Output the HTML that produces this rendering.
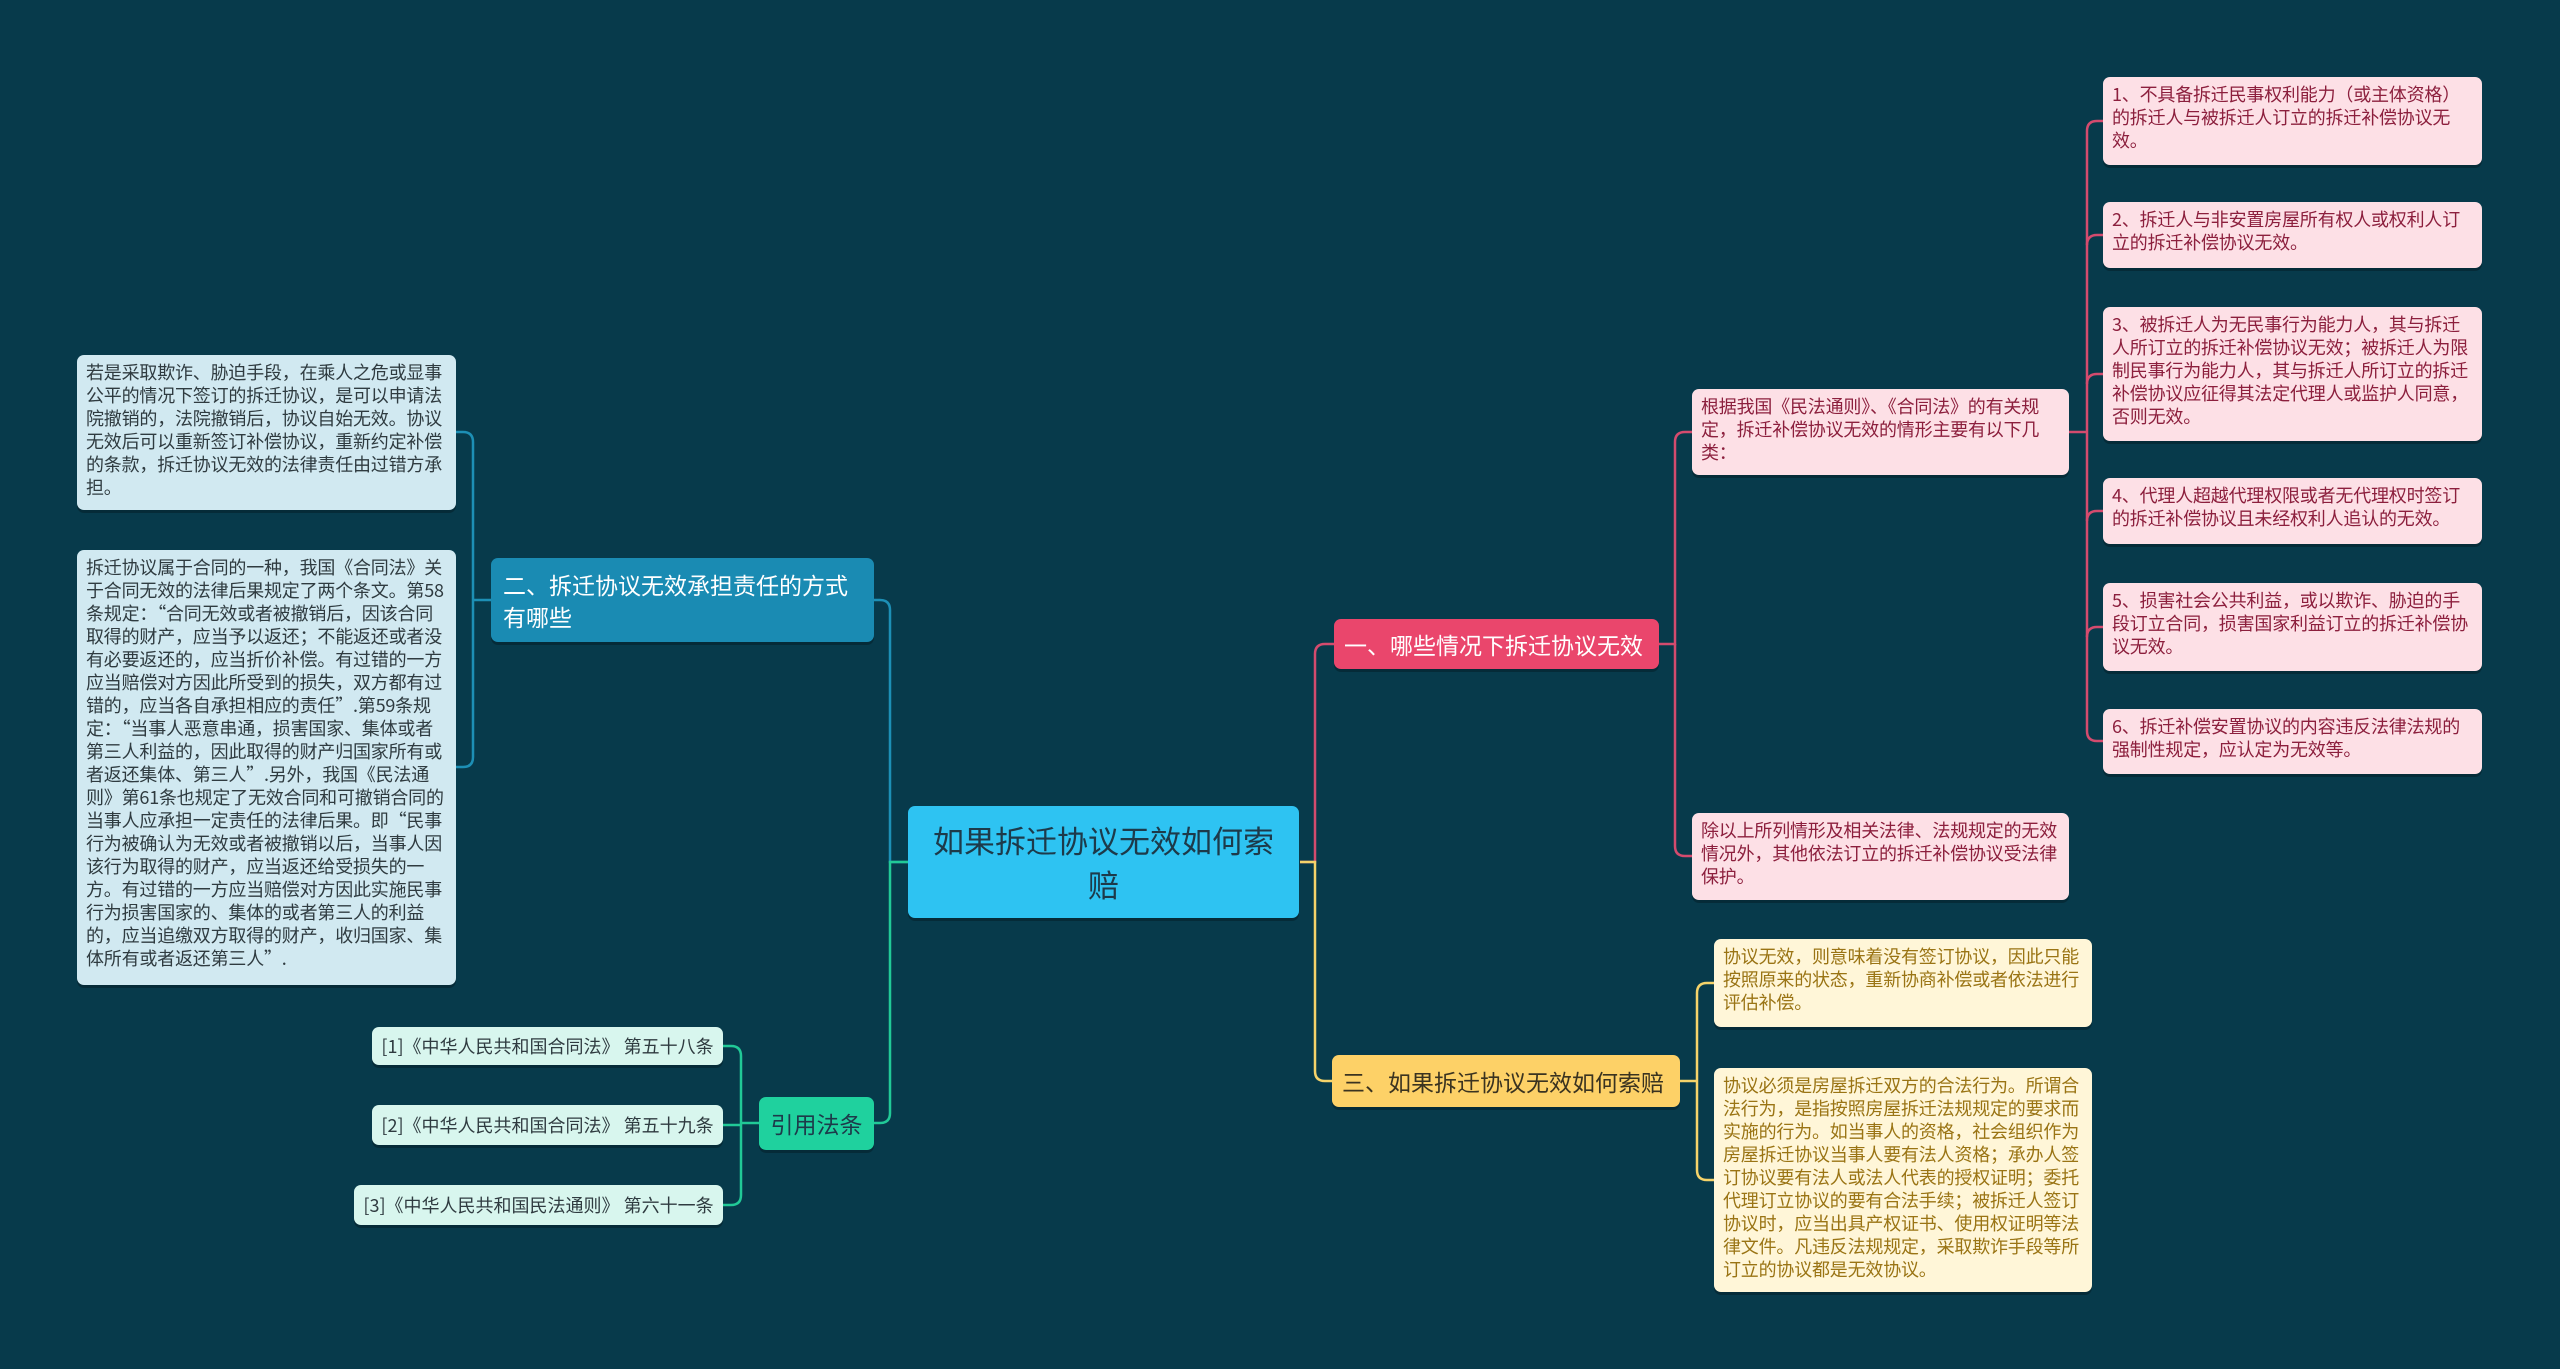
<!DOCTYPE html>
<html><head><meta charset="utf-8"><style>
html,body{margin:0;padding:0}
body{width:2560px;height:1369px;background:#073a4b;position:relative;overflow:hidden;font-family:"Noto Sans CJK SC","Liberation Sans",sans-serif}
.n{position:absolute;box-sizing:border-box;border-radius:7px;box-shadow:0 3px 0 rgba(0,0,0,0.25)}
.s{font-size:18px;line-height:23px;padding:6px 8px 6px 9px;word-break:break-all;letter-spacing:-0.2px}
.pk{background:#fde0e6;color:#8c1f3d}
.yl{background:#fff6d8;color:#9a7414}
.bl{background:#d1e9f1;color:#2f3b40}
.gr{background:#d8f6ee;color:#2f3b40;font-size:18px;line-height:38px;text-align:center;white-space:nowrap}
svg{position:absolute;left:0;top:0}
</style></head><body>
<svg width="2560" height="1369" fill="none" stroke-width="2.5">
<g stroke="#d44b6e">
<path d="M1300 862 H1315 V654 Q1315 644 1325 644 H1334"/>
<path d="M1659 644 H1675 V442 Q1675 432 1685 432 H1692"/>
<path d="M1675 644 V846 Q1675 856 1685 856 H1692"/>
<path d="M2069 432 H2087"/>
<path d="M2087 131 Q2087 121 2097 121 H2103 M2087 131 V731 Q2087 741 2097 741 H2103"/>
<path d="M2087 245 Q2087 235 2097 235 H2103"/>
<path d="M2087 384 Q2087 374 2097 374 H2103"/>
<path d="M2087 521 Q2087 511 2097 511 H2103"/>
<path d="M2087 637 Q2087 627 2097 627 H2103"/>
</g>
<g stroke="#f5d36a">
<path d="M1300 862 H1315 V1071 Q1315 1081 1325 1081 H1332"/>
<path d="M1680 1081 H1697"/>
<path d="M1697 993 Q1697 983 1707 983 H1714 M1697 993 V1170 Q1697 1180 1707 1180 H1714"/>
</g>
<g stroke="#1d8fb5">
<path d="M908 862 H890 V610 Q890 600 880 600 H874"/>
<path d="M491 600 H473"/>
<path d="M473 442 Q473 432 463 432 H456 M473 442 V757 Q473 767 463 767 H456"/>
</g>
<g stroke="#21c997">
<path d="M908 862 H890 V1113 Q890 1123 880 1123 H874"/>
<path d="M759 1123 H741"/>
<path d="M741 1056 Q741 1046 731 1046 H723 M741 1056 V1195 Q741 1205 731 1205 H723"/>
<path d="M741 1125 H723"/>
</g>
</svg>

<div class="n" style="left:908px;top:806px;width:391px;height:112px;background:#2ec3f2;color:#1d3a4a;font-size:31px;line-height:44px;text-align:center;padding:12px 20px">如果拆迁协议无效如何索赔</div>

<div class="n" style="left:1334px;top:619px;width:325px;height:50px;background:#ea466c;color:#fff;font-size:23px;line-height:50px;padding-left:10px;white-space:nowrap">一、哪些情况下拆迁协议无效</div>
<div class="n s pk" style="left:1692px;top:389px;width:377px;height:86px">根据我国《民法通则》、《合同法》的有关规定，拆迁补偿协议无效的情形主要有以下几类：</div>
<div class="n s pk" style="left:1692px;top:813px;width:377px;height:87px">除以上所列情形及相关法律、法规规定的无效情况外，其他依法订立的拆迁补偿协议受法律保护。</div>
<div class="n s pk" style="left:2103px;top:77px;width:379px;height:88px">1、不具备拆迁民事权利能力（或主体资格）的拆迁人与被拆迁人订立的拆迁补偿协议无效。</div>
<div class="n s pk" style="left:2103px;top:202px;width:379px;height:66px">2、拆迁人与非安置房屋所有权人或权利人订立的拆迁补偿协议无效。</div>
<div class="n s pk" style="left:2103px;top:307px;width:379px;height:134px">3、被拆迁人为无民事行为能力人，其与拆迁人所订立的拆迁补偿协议无效；被拆迁人为限制民事行为能力人，其与拆迁人所订立的拆迁补偿协议应征得其法定代理人或监护人同意，否则无效。</div>
<div class="n s pk" style="left:2103px;top:478px;width:379px;height:66px">4、代理人超越代理权限或者无代理权时签订的拆迁补偿协议且未经权利人追认的无效。</div>
<div class="n s pk" style="left:2103px;top:583px;width:379px;height:88px">5、损害社会公共利益，或以欺诈、胁迫的手段订立合同，损害国家利益订立的拆迁补偿协议无效。</div>
<div class="n s pk" style="left:2103px;top:709px;width:379px;height:65px">6、拆迁补偿安置协议的内容违反法律法规的强制性规定，应认定为无效等。</div>

<div class="n" style="left:1332px;top:1055px;width:348px;height:52px;background:#fdd167;color:#3a3320;font-size:23px;line-height:52px;padding-left:10px;white-space:nowrap">三、如果拆迁协议无效如何索赔</div>
<div class="n s yl" style="left:1714px;top:939px;width:378px;height:88px">协议无效，则意味着没有签订协议，因此只能按照原来的状态，重新协商补偿或者依法进行评估补偿。</div>
<div class="n s yl" style="left:1714px;top:1068px;width:378px;height:224px">协议必须是房屋拆迁双方的合法行为。所谓合法行为，是指按照房屋拆迁法规规定的要求而实施的行为。如当事人的资格，社会组织作为房屋拆迁协议当事人要有法人资格；承办人签订协议要有法人或法人代表的授权证明；委托代理订立协议的要有合法手续；被拆迁人签订协议时，应当出具产权证书、使用权证明等法律文件。凡违反法规规定，采取欺诈手段等所订立的协议都是无效协议。</div>

<div class="n" style="left:491px;top:558px;width:383px;height:84px;background:#1a8bb3;color:#fff;font-size:23px;line-height:32px;padding:10px 12px">二、拆迁协议无效承担责任的方式有哪些</div>
<div class="n s bl" style="left:77px;top:355px;width:379px;height:155px">若是采取欺诈、胁迫手段，在乘人之危或显事公平的情况下签订的拆迁协议，是可以申请法院撤销的，法院撤销后，协议自始无效。协议无效后可以重新签订补偿协议，重新约定补偿的条款，拆迁协议无效的法律责任由过错方承担。</div>
<div class="n s bl" style="left:77px;top:550px;width:379px;height:435px">拆迁协议属于合同的一种，我国《合同法》关于合同无效的法律后果规定了两个条文。第58条规定：“合同无效或者被撤销后，因该合同取得的财产，应当予以返还；不能返还或者没有必要返还的，应当折价补偿。有过错的一方应当赔偿对方因此所受到的损失，双方都有过错的，应当各自承担相应的责任”.第59条规定：“当事人恶意串通，损害国家、集体或者第三人利益的，因此取得的财产归国家所有或者返还集体、第三人”.另外，我国《民法通则》第61条也规定了无效合同和可撤销合同的当事人应承担一定责任的法律后果。即“民事行为被确认为无效或者被撤销以后，当事人因该行为取得的财产，应当返还给受损失的一方。有过错的一方应当赔偿对方因此实施民事行为损害国家的、集体的或者第三人的利益的，应当追缴双方取得的财产，收归国家、集体所有或者返还第三人”.</div>

<div class="n" style="left:759px;top:1097px;width:115px;height:53px;background:#1fd19e;color:#1d3a4a;font-size:23px;line-height:53px;text-align:center">引用法条</div>
<div class="n gr" style="left:372px;top:1027px;width:351px;height:38px">[1]《中华人民共和国合同法》 第五十八条</div>
<div class="n gr" style="left:372px;top:1105px;width:351px;height:40px;line-height:40px">[2]《中华人民共和国合同法》 第五十九条</div>
<div class="n gr" style="left:354px;top:1185px;width:369px;height:40px;line-height:40px">[3]《中华人民共和国民法通则》 第六十一条</div>
</body></html>
